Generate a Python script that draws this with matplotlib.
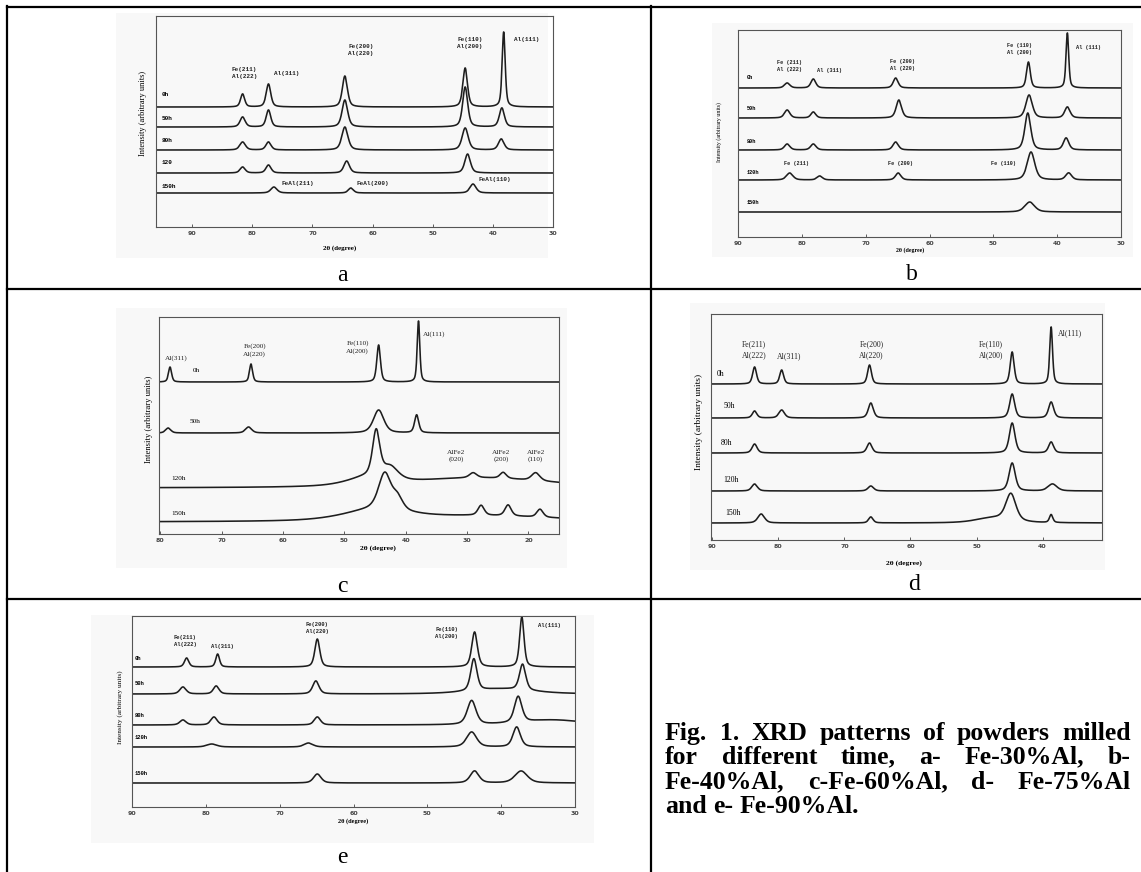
import numpy as np
import matplotlib
matplotlib.use("Agg")
import matplotlib.pyplot as plt
from matplotlib.lines import Line2D
from matplotlib.patches import Rectangle

W, H = 1141, 872

# ---- data ----
# each peak: (2theta position, height above the trace baseline, half width)
times_a = ["0h", "50h", "80h", "120", "150h"]
base_a = [120, 100, 77, 54, 34]
peaks_a = [
    [(81.6, 13, .4), (77.3, 23, .45), (64.6, 31, .5), (44.6, 39, .45), (38.2, 75, .3)],
    [(81.6, 10, .5), (77.3, 17, .45), (64.6, 27, .55), (44.6, 40, .5), (38.5, 19, .5)],
    [(81.6, 8, .55), (77.3, 8, .5), (64.6, 23, .6), (44.6, 22, .6), (38.6, 11, .55)],
    [(81.6, 6, .5), (77.3, 8, .5), (64.3, 12, .55), (44.2, 19, .55)],
    [(76.4, 6, .6), (63.6, 5, .5), (43.3, 9, .6)],
]
labels_a = [("Fe(211)\nAl(222)", 81.3, 154), ("Al(311)", 74.2, 153), ("Fe(200)\nAl(220)", 61.9, 177),
            ("Fe(110)\nAl(200)", 43.8, 184), ("Al(111)", 34.4, 188), ("FeAl(211)", 72.4, 44),
            ("FeAl(200)", 60.0, 44), ("FeAl(110)", 39.6, 47)]
tlab_a = [132, 109, 86, 64, 40]

times_b = ["0h", "50h", "80h", "120h", "150h"]
base_b = [149, 119, 87, 57, 25]
peaks_b = [
    [(82.3, 5, .5), (78.2, 9, .45), (65.3, 10, .45), (44.5, 26, .35), (38.4, 55, .25)],
    [(82.3, 8, .5), (78.2, 6, .45), (64.8, 18, .5), (44.4, 23, .6), (38.4, 11, .5)],
    [(82.3, 6, .5), (78.2, 6, .5), (65.3, 8, .5), (44.6, 37, .55), (38.6, 12, .5)],
    [(81.9, 7, .6), (77.2, 4, .5), (64.9, 7, .5), (44.1, 28, .7), (38.2, 7, .55)],
    [(44.3, 10, .9)],
]
labels_b = [("Fe (211)\nAl (222)", 81.9, 171), ("Al (311)", 75.7, 167), ("Fe (200)\nAl (220)", 64.3, 172.5),
            ("Fe (110)\nAl (200)", 45.9, 188.5), ("Al (111)", 35.1, 190), ("Fe (211)", 80.8, 73),
            ("Fe (200)", 64.6, 73), ("Fe (110)", 48.4, 74)]
tlab_b = [160, 129, 96, 64, 35]

times_c = ["0h", "50h", "120h", "150h"]
base_c = [152, 101, 46, 12]
peaks_c = [
    [(78.4, 15, .3), (65.2, 18, .3), (44.4, 37, .35), (37.9, 61, .25)],
    [(78.7, 5, .5), (65.6, 6, .6), (44.4, 23, 1.0), (38.2, 18, .4)],
    [(46.0, 8, 4), (28.0, 10, 14), (44.8, 45, .7), (42.5, 12, 1.5),
     (29.0, 5, .7), (24.1, 6, .6), (18.8, 8, .8)],
    [(45.0, 10, 6), (28.0, 6, 16), (43.4, 36, 1.2), (41.3, 12, 1.0),
     (27.7, 10, .6), (23.3, 11, .6), (18.1, 8, .6)],
]
labels_c = [("Al(311)", 77.3, 176), ("Fe(200)\nAl(220)", 64.6, 184), ("Fe(110)\nAl(200)", 47.8, 187),
            ("Al(111)", 35.3, 200), ("AlFe2\n(020)", 31.7, 78), ("AlFe2\n(200)", 24.4, 78),
            ("AlFe2\n(110)", 18.8, 78)]
tlab_c = [(74.1, 164), (74.4, 113), (77.0, 56), (77.0, 21)]

times_d = ["0h", "50h", "80h", "120h", "150h"]
base_d = [156, 122, 87, 49, 17]
peaks_d = [
    [(83.6, 17, .35), (79.5, 14, .35), (66.2, 19, .35), (44.6, 32, .35), (38.7, 57, .25)],
    [(83.6, 7, .4), (79.5, 8, .5), (66.0, 15, .45), (44.6, 24, .45), (38.7, 16, .45)],
    [(83.6, 9, .45), (66.2, 10, .45), (44.6, 30, .5), (38.7, 11, .45)],
    [(83.6, 7, .5), (66.0, 5, .5), (44.6, 28, .55), (38.5, 7, .8)],
    [(82.6, 9, .6), (66.0, 6, .4), (47.5, 5, 3), (44.8, 27, .9), (38.7, 8, .3)],
]
labels_d = [("Fe(211)\nAl(222)", 83.7, 190.5), ("Al(311)", 78.4, 184), ("Fe(200)\nAl(220)", 65.9, 190.5),
            ("Fe(110)\nAl(200)", 47.8, 190.5), ("Al(111)", 35.9, 207)]
tlab_d = [(88.8, 166), (87.5, 134), (87.8, 97), (87.2, 60), (86.8, 27)]

times_e = ["0h", "50h", "80h", "120h", "150h"]
base_e = [140, 113, 82, 60, 24]
peaks_e = [
    [(82.6, 9, .35), (78.4, 13, .3), (64.9, 28, .4), (43.6, 35, .45), (37.2, 50, .35)],
    [(83.1, 7, .5), (78.6, 8, .45), (65.1, 13, .5), (40.0, 5, 5), (43.7, 32, .5), (37.1, 26, .5)],
    [(83.1, 5, .5), (78.9, 8, .5), (64.9, 8, .5), (33.0, 5, 5), (44.0, 24, .7), (37.7, 26, .6)],
    [(79.2, 3, .8), (66.1, 4, .7), (44.0, 15, .8), (37.9, 20, .6)],
    [(64.9, 9, .6), (43.6, 12, .7), (37.3, 12, 1.0)],
]
labels_e = [("Fe(211)\nAl(222)", 82.8, 166), ("Al(311)", 77.8, 161), ("Fe(200)\nAl(220)", 64.9, 179.5),
            ("Fe(110)\nAl(200)", 47.4, 174), ("Al(111)", 33.5, 182)]
tlab_e = [149, 124, 92, 70, 34]

caption = ["Fig. 1. XRD patterns of powders milled",
           "for different time, a- Fe-30%Al, b-",
           "Fe-40%Al, c-Fe-60%Al, d- Fe-75%Al",
           "and e- Fe-90%Al."]


fig = plt.figure(figsize=(W / 100, H / 100), dpi=100)


def px_axes(l, t, r, b):
    return fig.add_axes([l / W, 1 - b / H, (r - l) / W, (b - t) / H], zorder=2)


def pattern(x, base, peaks):
    y = np.full_like(x, float(base))
    for pos, h, hw in peaks:
        d = (x - pos) / hw
        y += h * (0.5 * np.exp(-np.log(2) * d ** 2) + 0.5 / (1 + d ** 2))
    return y


def draw_panel(box, xlim, ticks, bases, peaks, labels, lab_font, lab_weight, fs_lab):
    l, t, r, b = box
    ax = px_axes(l, t, r, b)
    ax.set_facecolor("none")
    ax.set_xlim(*xlim)
    ax.set_ylim(0, b - t)
    x = np.linspace(min(xlim), max(xlim), 3000)
    for base, pk in zip(bases, peaks):
        ax.plot(x, pattern(x, base, pk), color="#1e1e1e", lw=1.15)
    for txt, xx, yy in labels:
        ax.text(xx, yy, txt, ha="center", va="center", fontsize=fs_lab, family=lab_font,
                weight=lab_weight, linespacing=1.5, color="#222222")
    ax.set_xticks(ticks)
    ax.set_xticklabels([str(v) for v in ticks])
    ax.set_yticks([])
    ax.tick_params(axis="x", direction="in", length=2, width=0.6, pad=3,
                   labelsize=4.5, colors="#444444")
    for lbl in ax.get_xticklabels():
        lbl.set_fontweight("bold")
    for s in ax.spines.values():
        s.set_color("#555555")
        s.set_linewidth(0.8)
    return ax


# light scanned backgrounds
for (l, t, r, b) in [(116, 13, 548, 258), (712, 23, 1133, 257), (116, 308, 567, 568),
                     (690, 303, 1105, 570), (91, 615, 594, 843)]:
    fig.add_artist(Rectangle((l / W, 1 - b / H), (r - l) / W, (b - t) / H,
                             transform=fig.transFigure, facecolor="#f8f8f8",
                             edgecolor="none", zorder=-5))

mono = "Liberation Mono"
serif = "Liberation Serif"

ax_a = draw_panel((156, 16, 553, 227), (96, 30), [90, 80, 70, 60, 50, 40, 30],
                  base_a, peaks_a, labels_a, mono, "bold", 4.3)
for tl, yy in zip(times_a, tlab_a):
    ax_a.text(95, yy, tl, ha="left", va="center", fontsize=4.3, family=mono, weight="bold")

ax_b = draw_panel((738, 30, 1121, 237), (90, 30), [90, 80, 70, 60, 50, 40, 30],
                  base_b, peaks_b, labels_b, mono, "bold", 3.8)
for tl, yy in zip(times_b, tlab_b):
    ax_b.text(88.6, yy, tl, ha="left", va="center", fontsize=3.8, family=mono, weight="bold")

ax_c = draw_panel((159, 317, 559, 534), (80.2, 15), [80, 70, 60, 50, 40, 30, 20],
                  base_c, peaks_c, labels_c, serif, "normal", 5.2)
for tl, (xx, yy) in zip(times_c, tlab_c):
    ax_c.text(xx, yy, tl, ha="center", va="center", fontsize=5.2, family=serif)

ax_d = draw_panel((711, 314, 1102, 540), (90.2, 31), [90, 80, 70, 60, 50, 40],
                  base_d, peaks_d, labels_d, serif, "normal", 5.6)
for tl, (xx, yy) in zip(times_d, tlab_d):
    ax_d.text(xx, yy, tl, ha="center", va="center", fontsize=5.6, family=serif)

ax_e = draw_panel((132, 616, 575, 807), (90, 30), [90, 80, 70, 60, 50, 40, 30],
                  base_e, peaks_e, labels_e, mono, "bold", 4.0)
for tl, yy in zip(times_e, tlab_e):
    ax_e.text(89.6, yy, tl, ha="left", va="center", fontsize=4.0, family=mono, weight="bold")

# axis titles placed like the scans
for (xx, yy, fs) in [(340, 248, 5.0), (910, 250, 4.2), (378, 548, 5.4), (904, 563, 5.4), (353, 821, 4.6)]:
    fig.text(xx / W, 1 - yy / H, "2θ (degree)", ha="center", va="center",
             fontsize=fs, weight="bold", family=serif)
for (xx, yy, fs) in [(143, 113, 6.0), (719, 132, 4.2), (149, 419, 6.2), (699, 422, 6.8), (120, 707, 5.2)]:
    fig.text(xx / W, 1 - yy / H, "Intensity (arbitrary units)", ha="center", va="center",
             rotation=90, fontsize=fs, family=serif)

# panel letters
for (ch, xx, yy) in [("a", 342, 275), ("b", 912, 274), ("c", 342, 587), ("d", 914, 584), ("e", 342, 857)]:
    fig.text(xx / W, 1 - yy / H, ch, ha="center", va="center", fontsize=17, family=serif)

# table rules
lw = 1.6
rules = [((7, 1141), (7, 7)), ((7, 7), (6, 872)), ((7, 1141), (289, 289)),
         ((7, 1141), (599, 599)), ((651, 651), (6, 872))]
for xs, ys in rules:
    fig.add_artist(Line2D([v / W for v in xs], [1 - v / H for v in ys], color="black",
                          lw=lw, transform=fig.transFigure))

# justified caption
cap_fs = 18.5
x0, x1 = 665, 1131
line_y = [733, 757, 782, 806]
renderer = fig.canvas.get_renderer()
for i, (line, yy) in enumerate(zip(caption, line_y)):
    words = line.split(" ")
    texts = [fig.text(0, 1 - yy / H, w, ha="left", va="center", fontsize=cap_fs,
                      family=serif, weight="bold") for w in words]
    widths = [t.get_window_extent(renderer).width for t in texts]
    if i < len(caption) - 1 and len(words) > 1:
        gap = (x1 - x0 - sum(widths)) / (len(words) - 1)
    else:
        gap = 0.25 * cap_fs * 100 / 72
    xx = x0
    for t, w in zip(texts, widths):
        t.set_x(xx / W)
        xx += w + gap

fig.savefig("out.png", dpi=100, facecolor="white")
